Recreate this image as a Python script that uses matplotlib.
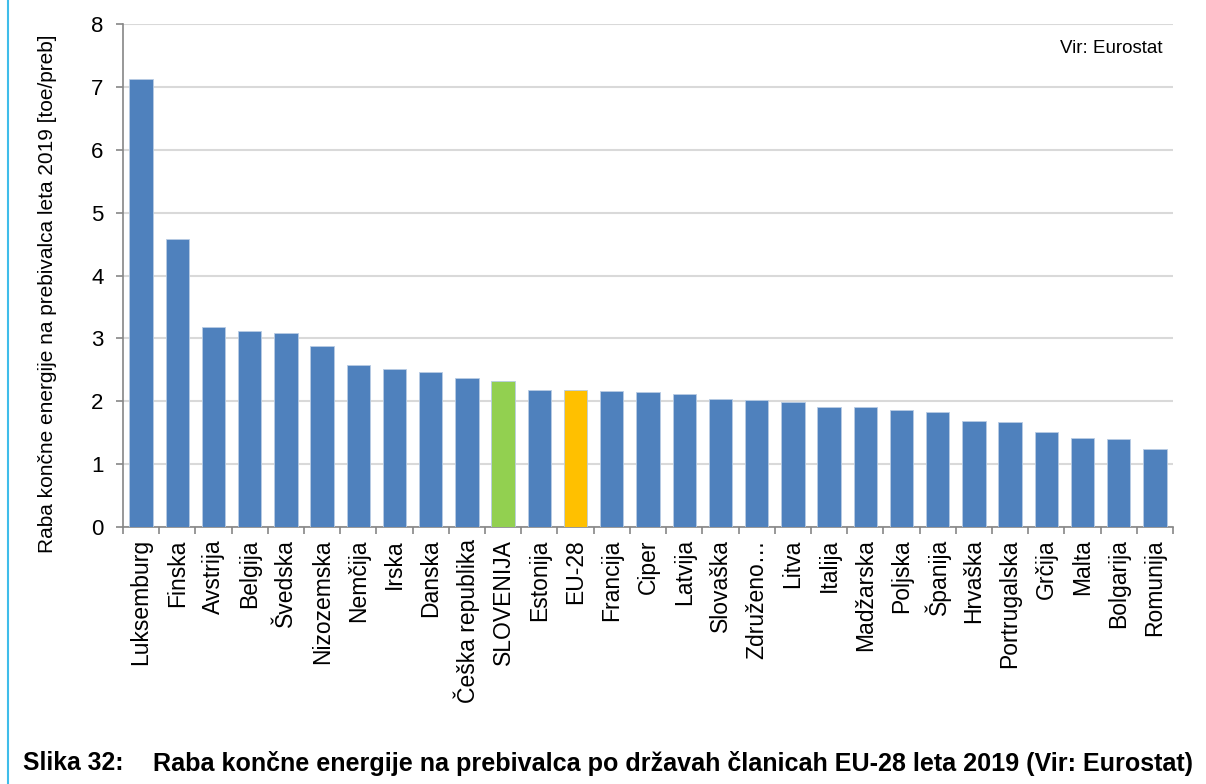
import matplotlib
matplotlib.use("Agg")
import matplotlib.pyplot as plt
from matplotlib.lines import Line2D
import numpy as np

plt.rcParams['font.family'] = ['Liberation Sans', 'DejaVu Sans']

categories = ["Luksemburg", "Finska", "Avstrija", "Belgija", "Švedska", "Nizozemska",
              "Nemčija", "Irska", "Danska", "Češka republika", "SLOVENIJA", "Estonija",
              "EU-28", "Francija", "Ciper", "Latvija", "Slovaška", "Združeno…", "Litva",
              "Italija", "Madžarska", "Poljska", "Španija", "Hrvaška", "Portrugalska",
              "Grčija", "Malta", "Bolgarija", "Romunija"]
values = [7.13, 4.58, 3.18, 3.12, 3.08, 2.88, 2.57, 2.51, 2.47, 2.37, 2.32, 2.18,
          2.17, 2.16, 2.14, 2.12, 2.04, 2.01, 1.99, 1.91, 1.90, 1.86, 1.83, 1.69,
          1.66, 1.51, 1.41, 1.40, 1.23]
y_ticks = [0, 1, 2, 3, 4, 5, 6, 7, 8]
y_label = "Raba končne energije na prebivalca leta 2019 [toe/preb]"
source_note = "Vir: Eurostat"
caption_num = "Slika 32:"
caption_text = "Raba končne energije na prebivalca po državah članicah EU-28 leta 2019 (Vir: Eurostat)"

W, H = 1206, 784
fig = plt.figure(figsize=(W / 100, H / 100), dpi=100)
fig.patch.set_facecolor('white')

ax = fig.add_axes([123 / W, 1 - 526.7 / H, (1173 - 123) / W, (526.7 - 24.3) / H])

def bar_color(name):
    if name == "SLOVENIJA":
        return "#92d050"
    if name == "EU-28":
        return "#ffc000"
    return "#4f81bd"

colors = [bar_color(c) for c in categories]
x = np.arange(len(categories))
ax.bar(x, values, width=0.645, color=colors, edgecolor="#b8cce4", linewidth=0.6, zorder=3)

ax.set_xlim(-0.5, len(categories) - 0.5)
ax.set_ylim(0, 8)
ax.set_yticks(y_ticks)
ax.set_yticklabels([str(t) for t in y_ticks], fontsize=16)
ax.yaxis.grid(True, color="#d9d9d9", linewidth=1.5, zorder=0)
ax.set_axisbelow(True)

ax.set_xticks(x)
ax.set_xticklabels(categories, rotation=90, fontsize=16.5, va='top', ha='center')
ax.set_xticks(np.arange(-0.5, len(categories) + 0.5, 1), minor=True)
ax.tick_params(axis='x', which='major', length=0, pad=9)
ax.tick_params(axis='x', which='minor', length=5, width=1.2, color="#868686", direction='out')
ax.tick_params(axis='y', which='major', length=5, width=1.2, color="#868686", direction='out', pad=9)

for s in ['top', 'right']:
    ax.spines[s].set_visible(False)
for s in ['left', 'bottom']:
    ax.spines[s].set_color("#868686")
    ax.spines[s].set_linewidth(1.2)

ax.text((1163 - 123) / 1050, (526.7 - 53) / 502.4, source_note, transform=ax.transAxes,
        ha='right', va='baseline', fontsize=13.5)

fig.text(48 / W, 1 - 294 / H, y_label, rotation=90, ha='center', va='center', fontsize=15)

fig.text(23 / W, 1 - 770.5 / H, caption_num, ha='left', va='baseline', fontsize=17.8, fontweight='bold')
fig.text(153 / W, 1 - 770.5 / H, caption_text, ha='left', va='baseline', fontsize=18.1, fontweight='bold')

fig.add_artist(Line2D([7.5 / W, 7.5 / W], [0, 1], transform=fig.transFigure, color="#3fbdea", linewidth=1.5))

fig.savefig("out.png", dpi=100, facecolor='white')
